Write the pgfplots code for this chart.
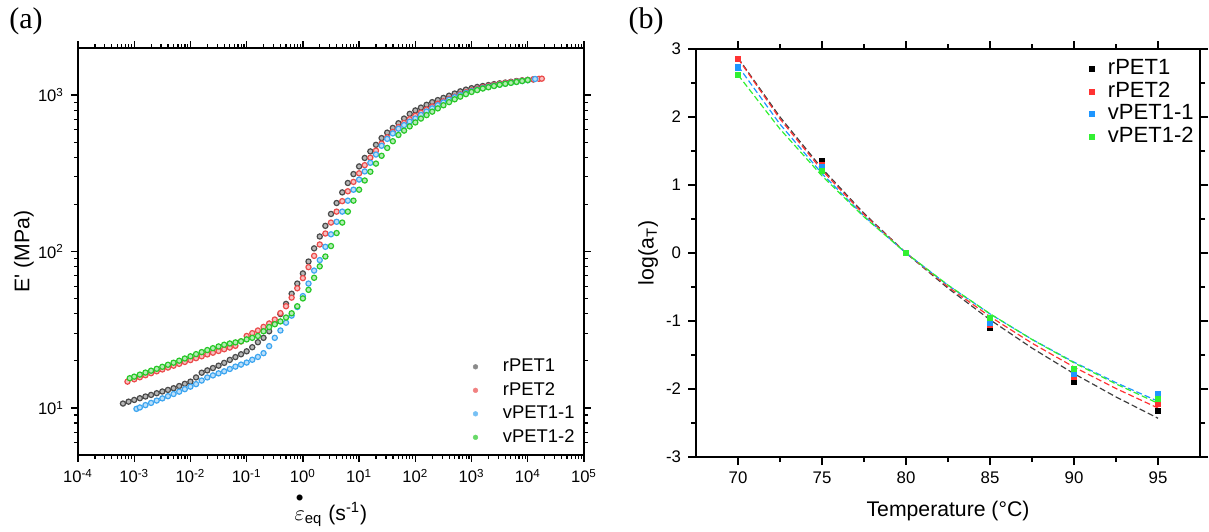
\documentclass[border=0pt]{standalone}
\usepackage{pgfplots}
\usepackage{pgfplotstable}
\pgfplotsset{compat=1.18}
\usepackage{fontspec}
\setmainfont{Liberation Sans}
\newfontfamily\serif{Liberation Serif}
\definecolor{cBlack}{RGB}{75,75,75}
\definecolor{cRed}{RGB}{235,75,75}
\definecolor{cBlue}{RGB}{60,165,240}
\definecolor{cGreen}{RGB}{40,200,40}
\definecolor{bRed}{RGB}{255,50,50}
\definecolor{bBlue}{RGB}{30,150,255}
\definecolor{bGreen}{RGB}{50,240,50}

% panel (a): log10(strain rate)  log10(E')
\pgfplotstableread{
lx ly
-3.2 1.028
-3.1 1.040
-3.0 1.051
-2.9 1.062
-2.8 1.073
-2.7 1.083
-2.6 1.094
-2.5 1.105
-2.4 1.115
-2.3 1.126
-2.2 1.140
-2.1 1.154
-2.0 1.168
-1.9 1.195
-1.8 1.225
-1.7 1.240
-1.6 1.255
-1.5 1.270
-1.4 1.288
-1.3 1.307
-1.2 1.325
-1.1 1.343
-1.0 1.362
-0.9 1.388
-0.8 1.420
-0.7 1.448
-0.6 1.490
-0.5 1.540
-0.4 1.600
-0.3 1.665
-0.2 1.730
-0.1 1.795
0.0 1.860
0.1 1.936
0.2 2.020
0.3 2.096
0.4 2.164
0.5 2.240
0.6 2.310
0.7 2.378
0.8 2.438
0.9 2.495
1.0 2.544
1.1 2.598
1.2 2.640
1.3 2.682
1.4 2.725
1.5 2.760
1.6 2.790
1.7 2.820
1.8 2.850
1.9 2.880
2.0 2.902
2.1 2.920
2.2 2.938
2.3 2.955
2.4 2.968
2.5 2.982
2.6 2.996
2.7 3.010
2.8 3.024
2.9 3.035
3.0 3.044
3.1 3.052
3.2 3.058
3.3 3.064
3.4 3.070
3.5 3.075
3.6 3.080
3.7 3.085
3.8 3.090
3.9 3.094
4.0 3.097
4.1 3.100
}\tblack
\pgfplotstableread{
lx ly
-3.12 1.168
-3.0 1.183
-2.9 1.196
-2.8 1.209
-2.7 1.222
-2.6 1.234
-2.5 1.246
-2.4 1.258
-2.3 1.270
-2.2 1.282
-2.1 1.294
-2.0 1.306
-1.9 1.318
-1.8 1.330
-1.7 1.342
-1.6 1.353
-1.5 1.364
-1.4 1.375
-1.3 1.386
-1.2 1.397
-1.1 1.425
-1.0 1.460
-0.9 1.478
-0.8 1.495
-0.7 1.518
-0.6 1.540
-0.5 1.565
-0.4 1.606
-0.3 1.650
-0.2 1.705
-0.1 1.765
0.0 1.830
0.1 1.900
0.2 1.972
0.3 2.045
0.4 2.115
0.5 2.185
0.6 2.255
0.7 2.322
0.8 2.385
0.9 2.445
1.0 2.500
1.1 2.552
1.2 2.600
1.3 2.645
1.4 2.690
1.5 2.730
1.6 2.765
1.7 2.795
1.8 2.822
1.9 2.846
2.0 2.868
2.1 2.888
2.2 2.908
2.3 2.927
2.4 2.945
2.5 2.960
2.6 2.975
2.7 2.990
2.8 3.005
2.9 3.018
3.0 3.030
3.1 3.040
3.2 3.050
3.3 3.058
3.4 3.065
3.5 3.072
3.6 3.078
3.7 3.083
3.8 3.088
3.9 3.093
4.0 3.097
4.1 3.101
4.2 3.104
4.25 3.105
}\tred
\pgfplotstableread{
lx ly
-2.96 0.994
-2.9 1.003
-2.8 1.018
-2.7 1.032
-2.6 1.047
-2.5 1.061
-2.4 1.075
-2.3 1.089
-2.2 1.104
-2.1 1.120
-2.0 1.136
-1.9 1.152
-1.8 1.175
-1.7 1.195
-1.6 1.208
-1.5 1.221
-1.4 1.234
-1.3 1.249
-1.2 1.264
-1.1 1.277
-1.0 1.290
-0.9 1.308
-0.8 1.326
-0.7 1.350
-0.6 1.395
-0.5 1.448
-0.4 1.495
-0.3 1.545
-0.2 1.590
-0.1 1.645
0.0 1.715
0.1 1.795
0.2 1.878
0.3 1.945
0.4 2.030
0.5 2.110
0.6 2.190
0.7 2.255
0.8 2.325
0.9 2.395
1.0 2.460
1.1 2.512
1.2 2.567
1.3 2.620
1.4 2.676
1.5 2.720
1.6 2.755
1.7 2.785
1.8 2.808
1.9 2.830
2.0 2.850
2.1 2.873
2.2 2.895
2.3 2.915
2.4 2.935
2.5 2.953
2.6 2.970
2.7 2.986
2.8 3.000
2.9 3.013
3.0 3.025
3.1 3.035
3.2 3.045
3.3 3.053
3.4 3.060
3.5 3.067
3.6 3.073
3.7 3.079
3.8 3.085
3.9 3.090
4.0 3.095
4.13 3.103
}\tblue
\pgfplotstableread{
lx ly
-3.08 1.190
-3.0 1.200
-2.9 1.213
-2.8 1.226
-2.7 1.238
-2.6 1.250
-2.5 1.263
-2.4 1.276
-2.3 1.289
-2.2 1.302
-2.1 1.316
-2.0 1.330
-1.9 1.344
-1.8 1.357
-1.7 1.370
-1.6 1.382
-1.5 1.393
-1.4 1.404
-1.3 1.412
-1.2 1.419
-1.1 1.426
-1.0 1.438
-0.9 1.448
-0.8 1.460
-0.7 1.490
-0.6 1.517
-0.5 1.535
-0.4 1.553
-0.3 1.578
-0.2 1.605
-0.1 1.650
0.0 1.700
0.1 1.755
0.2 1.832
0.3 1.905
0.4 1.968
0.5 2.035
0.6 2.118
0.7 2.185
0.8 2.255
0.9 2.325
1.0 2.395
1.1 2.454
1.2 2.510
1.3 2.562
1.4 2.612
1.5 2.662
1.6 2.705
1.7 2.745
1.8 2.773
1.9 2.800
2.0 2.825
2.1 2.850
2.2 2.872
2.3 2.894
2.4 2.915
2.5 2.935
2.6 2.955
2.7 2.973
2.8 2.990
2.9 3.006
3.0 3.020
3.1 3.032
3.2 3.042
3.3 3.050
3.4 3.058
3.5 3.066
3.6 3.072
3.7 3.078
3.8 3.084
3.9 3.090
4.0 3.096
}\tgreen

% panel (b): measured shift factors
\pgfplotstableread{
T a b c d
70 2.85 2.85 2.73 2.62
75 1.356 1.30 1.27 1.21
80 0 0 0 0
85 -1.10 -1.06 -1.02 -0.96
90 -1.90 -1.82 -1.77 -1.70
95 -2.32 -2.22 -2.07 -2.14
}\tpts
% panel (b): fitted curves
\pgfplotstableread{
T a b c d
70 2.87 2.86 2.75 2.62
72.5 2.00 1.971 1.894 1.823
75 1.243 1.216 1.167 1.134
77.5 0.583 0.565 0.542 0.531
80 0 0 0 0
82.5 -0.518 -0.496 -0.475 -0.472
85 -0.981 -0.935 -0.896 -0.893
87.5 -1.398 -1.326 -1.270 -1.272
90 -1.775 -1.677 -1.605 -1.615
92.5 -2.117 -1.993 -1.907 -1.926
95 -2.43 -2.28 -2.18 -2.21
}\tfit

\begin{document}
\begin{tikzpicture}
\useasboundingbox (0,0) rectangle (604.5pt,265.5pt);
\node[font=\serif\fontsize{15}{17}\selectfont] at (13pt,255pt) {(a)};
\node[font=\serif\fontsize{15}{17}\selectfont] at (323pt,255pt) {(b)};

\begin{axis}[
  at={(39pt,38pt)}, anchor=south west,
  scale only axis, width=253pt, height=203.5pt,
  xmode=log, ymode=log,
  xmin=1e-4, xmax=1e5, ymin=5, ymax=2000,
  xtick={1e-4,1e-3,1e-2,1e-1,1,10,100,1000,1e4,1e5},
  xticklabels={10\textsuperscript{-4},10\textsuperscript{-3},10\textsuperscript{-2},10\textsuperscript{-1},10\textsuperscript{0},10\textsuperscript{1},10\textsuperscript{2},10\textsuperscript{3},10\textsuperscript{4},10\textsuperscript{5}},
  minor xtick={2e-4,3e-4,4e-4,5e-4,6e-4,7e-4,8e-4,9e-4,
    2e-3,3e-3,4e-3,5e-3,6e-3,7e-3,8e-3,9e-3,
    2e-2,3e-2,4e-2,5e-2,6e-2,7e-2,8e-2,9e-2,
    0.2,0.3,0.4,0.5,0.6,0.7,0.8,0.9,
    2,3,4,5,6,7,8,9,
    20,30,40,50,60,70,80,90,
    200,300,400,500,600,700,800,900,
    2000,3000,4000,5000,6000,7000,8000,9000,
    2e4,3e4,4e4,5e4,6e4,7e4,8e4,9e4},
  ytick={10,100,1000},
  yticklabels={10\textsuperscript{1},10\textsuperscript{2},10\textsuperscript{3}},
  minor ytick={6,7,8,9,20,30,40,50,60,70,80,90,200,300,400,500,600,700,800,900},
  tick align=outside,
  major tick length=3.5pt, minor tick length=2pt,
  axis line style={line width=0.9pt},
  every tick/.append style={line width=0.7pt, black},
  every minor tick/.append style={line width=0.6pt, black},
  tick label style={font=\fontsize{8.3}{9.5}\selectfont},
  xlabel={$\stackrel{\bullet}{\vphantom{X}\varepsilon}$\textsubscript{eq} (s\textsuperscript{-1})},
  xlabel style={at={(rel axis cs:0.5,-0.135)}, anchor=center, font=\fontsize{10.6}{12}\selectfont},
  ylabel={E\textquotesingle{} (MPa)},
  ylabel style={at={(rel axis cs:-0.107,0.5)}, anchor=center, font=\fontsize{10.6}{12}\selectfont},
  legend image code/.code={\draw[#1] plot coordinates {(0pt,0pt)}; \path (-2pt,0pt) (13.5pt,0pt);},
  legend style={draw=none, fill=none, inner sep=0pt, at={(rel axis cs:0.982,0.130)}, anchor=east,
    font=\fontsize{9.2}{11}\selectfont, row sep=2.75pt,
    nodes={inner sep=0pt, text height=7pt, text depth=2pt}},
  legend cell align=left,
]
\addplot[only marks, mark=*, mark size=1.3pt, mark options={draw=cBlack, fill=cBlack!40!white, line width=0.6pt}, forget plot]
  table[x expr={10^\thisrow{lx}}, y expr={10^\thisrow{ly}}] {\tblack};
\addplot[only marks, mark=*, mark size=1.3pt, mark options={draw=cRed, fill=cRed!35!white, line width=0.6pt}, forget plot]
  table[x expr={10^\thisrow{lx}}, y expr={10^\thisrow{ly}}] {\tred};
\addplot[only marks, mark=*, mark size=1.3pt, mark options={draw=cBlue, fill=cBlue!35!white, line width=0.6pt}, forget plot]
  table[x expr={10^\thisrow{lx}}, y expr={10^\thisrow{ly}}] {\tblue};
\addplot[only marks, mark=*, mark size=1.3pt, mark options={draw=cGreen, fill=cGreen!35!white, line width=0.6pt}, forget plot]
  table[x expr={10^\thisrow{lx}}, y expr={10^\thisrow{ly}}] {\tgreen};
\addlegendimage{only marks, mark=*, mark size=1.2pt, mark options={draw=cBlack!65!white, fill=cBlack!65!white, line width=0.2pt}}
\addlegendentry{rPET1}
\addlegendimage{only marks, mark=*, mark size=1.2pt, mark options={draw=cRed!70!white, fill=cRed!70!white, line width=0.2pt}}
\addlegendentry{rPET2}
\addlegendimage{only marks, mark=*, mark size=1.2pt, mark options={draw=cBlue!70!white, fill=cBlue!70!white, line width=0.2pt}}
\addlegendentry{vPET1-1}
\addlegendimage{only marks, mark=*, mark size=1.2pt, mark options={draw=cGreen!70!white, fill=cGreen!70!white, line width=0.2pt}}
\addlegendentry{vPET1-2}
\end{axis}

\begin{axis}[
  at={(348pt,37pt)}, anchor=south west,
  scale only axis, width=252pt, height=204pt,
  xmin=67.5, xmax=97.5, ymin=-3, ymax=3,
  xtick={70,75,80,85,90,95},
  xticklabels={70,75,80,85,90,95},
  ytick={-3,-2,-1,0,1,2,3},
  yticklabels={-3,-2,-1,0,1,2,3},
  minor x tick num=1, minor y tick num=1,
  tick align=outside,
  major tick length=4pt, minor tick length=2.5pt,
  axis line style={line width=0.9pt},
  every tick/.append style={line width=0.7pt, black},
  every minor tick/.append style={line width=0.6pt, black},
  tick label style={font=\fontsize{8.4}{10}\selectfont},
  xlabel={Temperature (°C)},
  xlabel style={at={(rel axis cs:0.5,-0.132)}, anchor=center, font=\fontsize{10.6}{12}\selectfont},
  ylabel={log(a\textsubscript{T})},
  ylabel style={at={(rel axis cs:-0.095,0.5)}, anchor=center, font=\fontsize{10.6}{12}\selectfont},
  legend image code/.code={\draw[#1] plot coordinates {(0pt,0pt)}; \path (-2pt,0pt) (8pt,0pt);},
  legend style={draw=none, fill=none, inner sep=0pt, at={(rel axis cs:0.988,0.868)}, anchor=east,
    font=\fontsize{11}{13}\selectfont, row sep=1.05pt,
    nodes={inner sep=0pt, text height=8pt, text depth=2.3pt}},
  legend cell align=left,
]
\addplot[black!75, line width=0.6pt, dash pattern=on 3pt off 1.5pt, forget plot] table[x=T, y=a] {\tfit};
\addplot[bRed, line width=0.6pt, dash pattern=on 3pt off 1.5pt, forget plot] table[x=T, y=b] {\tfit};
\addplot[bBlue, line width=0.6pt, dash pattern=on 3pt off 1.5pt, forget plot] table[x=T, y=c] {\tfit};
\addplot[bGreen, line width=0.6pt, dash pattern=on 3pt off 1.5pt, forget plot] table[x=T, y=d] {\tfit};
\addplot[only marks, mark=square*, mark size=1.3pt, mark options={draw=black, fill=black}] table[x=T, y=a] {\tpts};
\addlegendentry{rPET1}
\addplot[only marks, mark=square*, mark size=1.3pt, mark options={draw=bRed, fill=bRed}] table[x=T, y=b] {\tpts};
\addlegendentry{rPET2}
\addplot[only marks, mark=square*, mark size=1.3pt, mark options={draw=bBlue, fill=bBlue}] table[x=T, y=c] {\tpts};
\addlegendentry{vPET1-1}
\addplot[only marks, mark=square*, mark size=1.3pt, mark options={draw=bGreen, fill=bGreen}] table[x=T, y=d] {\tpts};
\addlegendentry{vPET1-2}
\end{axis}
\end{tikzpicture}
\end{document}
